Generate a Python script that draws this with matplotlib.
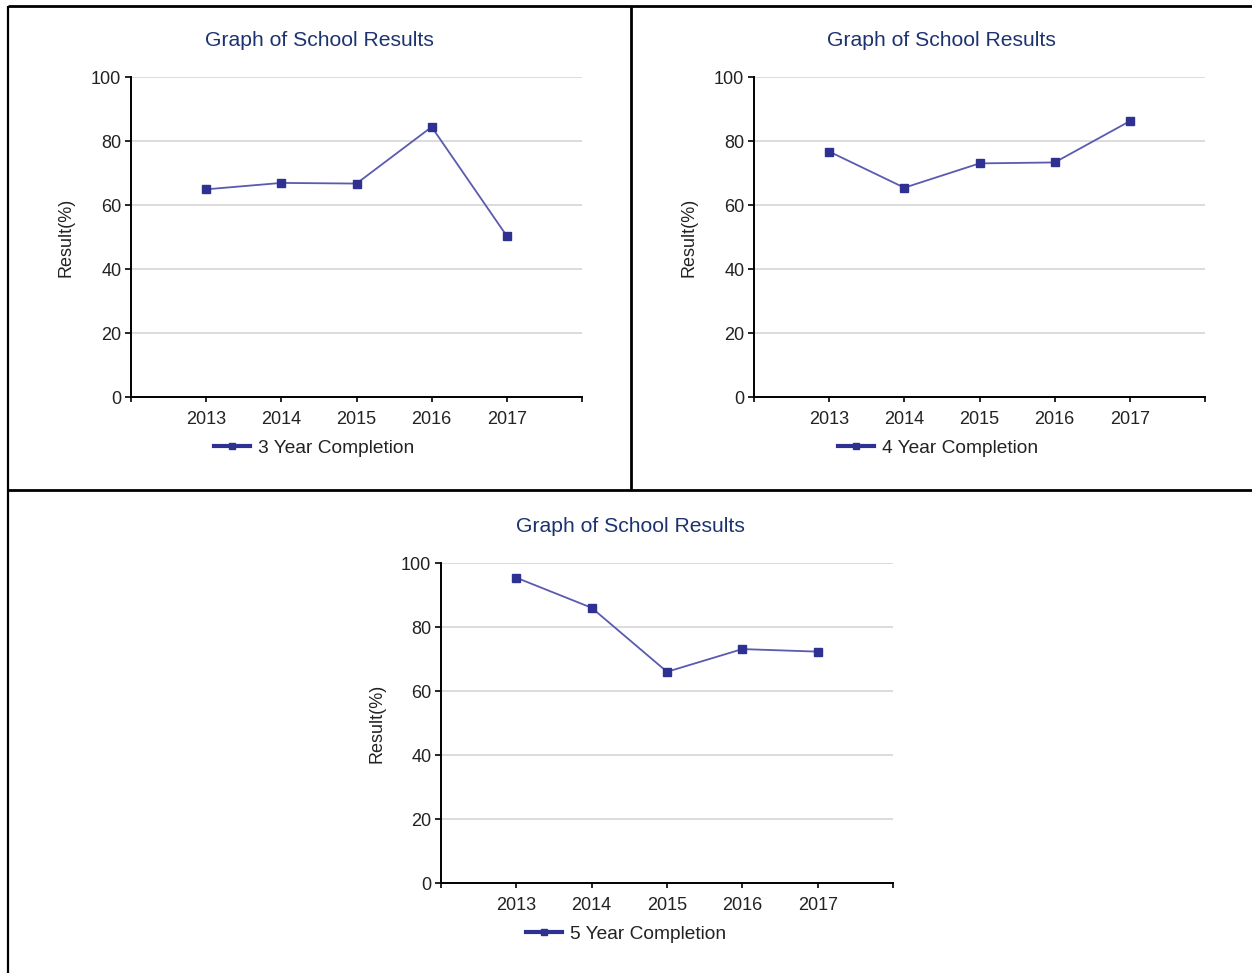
import matplotlib
matplotlib.use("Agg")
import matplotlib.pyplot as plt
from matplotlib.lines import Line2D

plt.rcParams["font.family"] = ["Liberation Sans", "DejaVu Sans"]

# ---- data -------------------------------------------------------------
years = ["2013", "2014", "2015", "2016", "2017"]
three_year = [64.9, 66.9, 66.7, 84.4, 50.3]
four_year = [76.7, 65.4, 73.0, 73.3, 86.2]
five_year = [95.4, 86.0, 66.0, 73.1, 72.3]
series_names = ["3 Year Completion", "4 Year Completion", "5 Year Completion"]
chart_title = "Graph of School Results"
y_label = "Result(%)"
y_ticks = [0, 20, 40, 60, 80, 100]

# ---- style ------------------------------------------------------------
W, H = 1252, 973
TITLE_COLOR = "#1c3370"
LINE_COLOR = "#5a5ab0"
MARK_COLOR = "#2e3192"
GRID_COLOR = "#dcdcdc"
TEXT_COLOR = "#222222"

fig = plt.figure(figsize=(W / 100, H / 100), dpi=100)


def px_axes(left, top, right, bottom):
    return fig.add_axes([left / W, 1 - bottom / H, (right - left) / W, (bottom - top) / H])


def draw_panel(box, values, name, title_xy, legend_xy, ylabel_x):
    ax = px_axes(*box)
    x = list(range(1, len(years) + 1))
    ax.plot(x, values, color=LINE_COLOR, lw=1.3, zorder=3)
    ax.plot(x, values, ls="none", marker="s", ms=6, mfc=MARK_COLOR,
            mec=MARK_COLOR, zorder=4)

    ax.set_xlim(0, len(years) + 1)
    ax.set_ylim(0, 100)
    ax.set_xticks(x, years)
    ax.set_xticks([0, len(years) + 1], minor=True)
    ax.set_yticks(y_ticks)

    for side in ("top", "right"):
        ax.spines[side].set_visible(False)
    for side in ("left", "bottom"):
        ax.spines[side].set_linewidth(1.4)
        ax.spines[side].set_color("black")

    ax.grid(axis="y", color=GRID_COLOR, lw=1.4, zorder=0)
    ax.set_axisbelow(True)
    ax.tick_params(axis="y", length=4, width=1.2, pad=3, labelsize=13,
                   labelcolor=TEXT_COLOR)
    ax.tick_params(axis="x", which="both", length=3.5, width=1.2, pad=6.5,
                   labelsize=13, labelcolor=TEXT_COLOR)

    fig.text(title_xy[0] / W, 1 - title_xy[1] / H, chart_title,
             ha="center", va="center", fontsize=15.2, color=TITLE_COLOR)
    fig.text(ylabel_x / W, 1 - (box[1] + box[3]) / 2 / H, y_label,
             rotation=90, ha="center", va="center", fontsize=13,
             color=TEXT_COLOR)

    handle = Line2D([], [], color=MARK_COLOR, lw=3, marker="s", ms=5,
                    mfc=MARK_COLOR, mec=MARK_COLOR)
    ax.legend([handle], [name], loc="center",
              bbox_to_anchor=(legend_xy[0] / W, 1 - legend_xy[1] / H),
              bbox_transform=fig.transFigure, frameon=False, fontsize=13.8,
              handlelength=1.9, handletextpad=0.4, borderpad=0,
              labelcolor=TEXT_COLOR)
    return ax


draw_panel((131, 77, 582, 397), three_year, series_names[0], (319, 40.5), (314, 448), 66)
draw_panel((754, 77, 1205, 397), four_year, series_names[1], (941, 40.5), (938, 448), 689)
draw_panel((441, 563, 893, 883), five_year, series_names[2], (630, 526.5), (626, 934), 377)

# ---- frame lines around the panels -------------------------------------
def frame_line(xs, ys, lw=2.0):
    fig.add_artist(Line2D([v / W for v in xs], [1 - v / H for v in ys],
                          transform=fig.transFigure, color="black", lw=lw,
                          solid_capstyle="butt"))


frame_line([8, W], [6, 6])
frame_line([8, 8], [6, H], lw=1.6)
frame_line([631, 631], [6, 490])
frame_line([8, W], [490, 490])

fig.savefig("out.png", dpi=100, facecolor="white")
